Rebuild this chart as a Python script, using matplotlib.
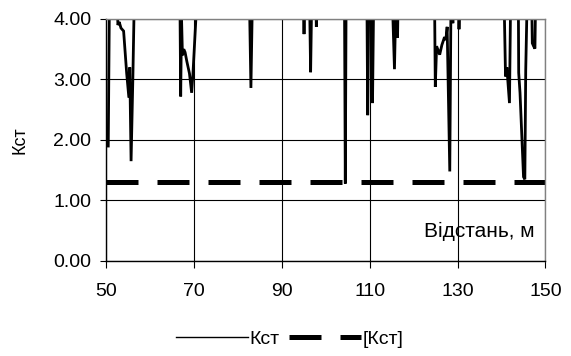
import matplotlib.pyplot as plt
from matplotlib.lines import Line2D
from matplotlib.ticker import FormatStrFormatter

plt.rcParams['font.family'] = ['Liberation Sans', 'DejaVu Sans']

# відстань, м  /  Кст (values above 4 run off the top of the axis)
dist = [50.4, 50.7, 52.3, 52.6, 52.9, 53.3, 53.9, 54.6, 55.1, 55.3, 55.6, 56.0, 56.4,
        66.7, 66.9, 67.1, 67.3, 67.6, 67.9, 68.3, 68.9, 69.4, 69.7, 70.8,
        82.5, 82.9, 83.3, 94.8, 95.0, 95.2, 96.2, 96.5, 96.8, 97.6, 97.8, 98.0,
        104.2, 104.4, 104.6, 109.3, 109.5, 109.8, 110.4, 110.6, 110.9,
        115.0, 115.6, 116.0, 116.3, 116.5,
        124.7, 124.9, 125.2, 125.9, 126.4, 127.0, 127.3, 127.6, 128.2, 128.5,
        128.9, 129.2, 130.2, 130.3, 130.5,
        140.5, 140.9, 141.2, 141.8, 142.1, 143.8, 143.9, 144.2, 145.0, 145.3,
        145.5, 145.9, 146.8, 147.0, 147.3, 147.6, 147.8, 150.0]
kst = [1.90, 4.60, 4.60, 3.90, 3.95, 3.85, 3.80, 3.10, 2.70, 3.20, 1.65, 3.00, 4.60,
       4.60, 2.72, 4.00, 3.40, 3.50, 3.45, 3.30, 3.10, 2.78, 3.10, 4.60,
       4.60, 2.86, 4.60, 4.60, 3.75, 4.60, 4.60, 3.12, 4.60, 4.60, 3.87, 4.60,
       4.60, 1.28, 4.60, 4.60, 2.41, 4.60, 4.60, 2.61, 4.60,
       4.60, 3.17, 4.60, 3.69, 4.60,
       4.60, 2.88, 3.55, 3.41, 3.57, 3.70, 3.65, 3.87, 1.48, 4.60,
       3.93, 4.60, 4.60, 3.83, 4.60,
       4.60, 3.05, 3.20, 2.61, 4.60, 4.60, 3.11, 2.78, 1.39, 1.35,
       3.15, 4.60, 4.60, 3.60, 3.55, 3.51, 4.60, 4.60]
kst_limit = 1.3

fig = plt.figure(figsize=(5.71, 3.56), dpi=100)
ax = fig.add_axes([0.1865, 0.2669, 0.7688, 0.6798])

ax.plot(dist, kst, color='black', lw=2.0, solid_joinstyle='miter')
ax.axhline(kst_limit, color='black', lw=3.6, dashes=(6.4, 3.8))

ax.set_xlim(50, 150)
ax.set_ylim(0, 4)
ax.set_xticks([50, 70, 90, 110, 130, 150])
ax.set_yticks([0, 1, 2, 3, 4])
ax.yaxis.set_major_formatter(FormatStrFormatter('%.2f'))
ax.grid(True, color='black', lw=0.8)
ax.tick_params(direction='out', width=0.8, labelsize=14)
ax.tick_params(axis='y', length=4.3, pad=6.5)
ax.tick_params(axis='x', length=4.8, pad=11)

ax.spines['top'].set_color('#808080')
ax.spines['right'].set_color('#808080')
for s in ax.spines.values():
    s.set_linewidth(1.0)

ax.set_ylabel('Кст', fontsize=13)
ax.yaxis.set_label_coords(-0.178, 0.5)
ax.text(147.6, 0.40, 'Відстань, м', fontsize=15, ha='right', va='baseline')

handles = [Line2D([], [], color='black', lw=1.0),
           Line2D([], [], color='black', lw=3.6, dashes=(6.4, 3.8))]
fig.legend(handles, ['Кст', '[Кст]'], loc='center', bbox_to_anchor=(0.507, 0.048),
           ncol=2, frameon=False, fontsize=14, handlelength=3.7,
           columnspacing=0.5, handletextpad=0.08)

fig.savefig('out.png', dpi=100)
